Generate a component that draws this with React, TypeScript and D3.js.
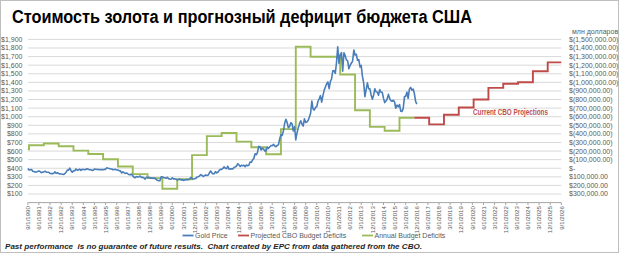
import React from "react";
import * as d3 from "d3";

// ---------- DATA ----------
const titleText = "Стоимость золота и прогнозный дефицит бюджета США";
const rightUnitText = "млн долларов";
const footerText =
  "Past performance  is no guarantee of future results.  Chart created by EPC from data gathered from the CBO.";
const projectionNote = "Current CBO Projections";

const seriesNames = ["Gold Price", "Projected CBO Budget Deficits", "Annual Budget Deficits"];

// Monthly gold price (USD/oz), starting September 1990, ending December 2016
const goldStart = "1990-09";
const goldPrices: number[] = [
  398, 380, 383, 386, // 1990 Sep-Dec
  366, 362, 355, 357, 361, 368, 362, 347, 355, 357, 366, 353, // 1991
  354, 353, 341, 337, 337, 343, 357, 340, 349, 339, 334, 333, // 1992
  330, 327, 337, 354, 378, 378, 401, 372, 355, 369, 370, 391, // 1993
  378, 381, 389, 376, 387, 385, 384, 385, 394, 389, 383, 383, // 1994
  375, 376, 392, 389, 385, 387, 383, 384, 384, 383, 387, 387, // 1995
  405, 400, 396, 392, 391, 382, 385, 387, 379, 379, 371, 369, // 1996
  345, 358, 348, 340, 345, 334, 326, 325, 332, 311, 296, 290, // 1997
  304, 297, 301, 310, 293, 296, 288, 273, 294, 292, 294, 288, // 1998
  285, 287, 280, 286, 268, 261, 255, 254, 299, 300, 291, 290, // 1999
  283, 293, 279, 275, 272, 288, 276, 277, 273, 264, 269, 274, // 2000
  265, 267, 258, 263, 267, 270, 266, 273, 293, 279, 275, 277, // 2001
  282, 297, 301, 308, 326, 318, 304, 312, 323, 316, 319, 343, // 2002
  368, 347, 335, 336, 361, 346, 354, 375, 388, 386, 398, 417, // 2003
  399, 395, 424, 388, 393, 395, 391, 408, 416, 426, 453, 438, // 2004
  422, 435, 428, 436, 418, 437, 430, 434, 473, 470, 495, 513, // 2005
  569, 557, 582, 654, 653, 613, 633, 623, 599, 604, 646, 632, // 2006
  650, 665, 662, 679, 659, 650, 666, 673, 743, 789, 783, 834, // 2007
  923, 971, 933, 871, 885, 930, 918, 833, 884, 730, 814, 870, // 2008
  919, 952, 916, 891, 976, 934, 939, 955, 996, 1040, 1182, 1088, // 2009
  1078, 1109, 1115, 1180, 1208, 1245, 1169, 1246, 1307, 1346, 1383, 1405, // 2010
  1327, 1411, 1439, 1535, 1536, 1505, 1628, 1813, 1620, 1722, 1746, 1531, // 2011
  1744, 1711, 1662, 1651, 1558, 1599, 1622, 1648, 1776, 1719, 1726, 1657, // 2012
  1664, 1578, 1598, 1469, 1394, 1234, 1314, 1394, 1327, 1324, 1253, 1204, // 2013
  1251, 1326, 1291, 1288, 1250, 1315, 1285, 1285, 1216, 1164, 1182, 1206, // 2014
  1260, 1214, 1187, 1180, 1191, 1171, 1098, 1135, 1114, 1142, 1065, 1060, // 2015
  1097, 1234, 1237, 1286, 1214, 1321, 1342, 1309, 1322, 1272, 1178, 1146, // 2016
];

// Annual budget deficits by fiscal year (USD millions, deficits negative)
const deficitYears = [
  1990, 1991, 1992, 1993, 1994, 1995, 1996, 1997, 1998, 1999, 2000, 2001, 2002,
  2003, 2004, 2005, 2006, 2007, 2008, 2009, 2010, 2011, 2012, 2013, 2014, 2015, 2016,
];
const annualDeficits = [
  -221000, -268000, -288000, -256000, -205000, -166000, -104000, -20000, 69000, 115000,
  239000, 129000, -153000, -374000, -411000, -310000, -244000, -163000, -455000,
  -1414000, -1298000, -1298000, -1092000, -676000, -482000, -437000, -588000,
];

// Projected CBO deficits by fiscal year (USD millions)
const projYears = [2017, 2018, 2019, 2020, 2021, 2022, 2023, 2024, 2025, 2026];
const projectedDeficits = [
  -588000, -511000, -623000, -708000, -801000, -936000, -983000, -1001000, -1129000, -1233000,
];

// Axis ticks
const goldTicks = [100, 200, 300, 400, 500, 600, 700, 800, 900, 1000, 1100, 1200, 1300, 1400, 1500, 1600, 1700, 1800, 1900];
const deficitTicks = [
  -1500000, -1400000, -1300000, -1200000, -1100000, -1000000, -900000, -800000, -700000,
  -600000, -500000, -400000, -300000, -200000, -100000, 0, 100000, 200000, 300000,
];
const axisStart = "1990-09";
const axisEnd = "2026-09";
const labelEveryMonths = 9;

// ---------- LAYOUT ----------
const W = 620;
const H = 255;
const plotLeft = 27.8;
const plotRight = 561.3;
const plotTop = 39.4;
const plotBottom = 202.6;

const COLORS = {
  gold: "#4A7EBB",
  proj: "#BE4B48",
  annual: "#9BBB59",
  grid: "#D9D9D9",
  axis: "#A6A6A6",
  label: "#595959",
  note: "#C0504D",
  frame: "#BFBFBF",
};
const FONT = "'Liberation Sans', Arial, sans-serif";

const ym = (s: string) => {
  const [y, m] = s.split("-").map(Number);
  return new Date(y, m - 1, 1);
};

export default function App() {
  const x0 = ym(axisStart);
  const x1 = ym(axisEnd);
  const x = d3.scaleTime().domain([x0, x1]).range([plotLeft, plotRight]);
  const yGold = d3.scaleLinear().domain([0, 1900]).range([plotBottom, plotTop]);
  const yDef = d3.scaleLinear().domain([400000, -1500000]).range([plotBottom, plotTop]);

  const gStart = ym(goldStart);
  const goldPts = goldPrices.map((v, i) => ({ d: d3.timeMonth.offset(gStart, i), v }));
  const goldLine = d3
    .line<{ d: Date; v: number }>()
    .x((p) => x(p.d))
    .y((p) => yGold(p.v))(goldPts) as string;

  const fyStart = (fy: number) => {
    const d = new Date(fy - 1, 9, 1);
    return d < x0 ? x0 : d;
  };
  const annualPts = deficitYears.map((fy, i) => ({ d: fyStart(fy), v: annualDeficits[i] }));
  annualPts.push({ d: fyStart(projYears[0]), v: annualDeficits[annualDeficits.length - 1] });
  const projPts = projYears.map((fy, i) => ({ d: fyStart(fy), v: projectedDeficits[i] }));
  projPts.push({ d: x1, v: projectedDeficits[projectedDeficits.length - 1] });

  const stepLine = d3
    .line<{ d: Date; v: number }>()
    .x((p) => x(p.d))
    .y((p) => yDef(p.v))
    .curve(d3.curveStepAfter);

  const xTicks: Date[] = [];
  for (let d = x0; d <= x1; d = d3.timeMonth.offset(d, labelEveryMonths)) xTicks.push(d);
  const fmtDate = (d: Date) => `${d.getMonth() + 1}/1/${d.getFullYear()}`;
  const fmtGold = d3.format("$,.0f");
  const fmtDef = (v: number) =>
    v < 0 ? `$(${d3.format(",.2f")(-v)})` : v === 0 ? "$-" : `$${d3.format(",.2f")(v)}`;

  const legendItems = [
    { name: seriesNames[0], color: COLORS.gold, x: 182.5 },
    { name: seriesNames[1], color: COLORS.proj, x: 238 },
    { name: seriesNames[2], color: COLORS.annual, x: 362 },
  ];

  return (
    <svg
      width={W}
      height={H}
      style={{ position: "absolute", left: 0, top: 0, background: "#fff" }}
      fontFamily={FONT}
    >
      <rect x={0.5} y={0.5} width={618} height={252} fill="#fff" stroke={COLORS.frame} />
      <text
        x={12}
        y={23}
        fontSize={18}
        fontWeight="bold"
        fill="#000"
        textLength={460}
        lengthAdjust="spacingAndGlyphs"
      >
        {titleText}
      </text>

      {/* gridlines */}
      {goldTicks.map((t) => (
        <line key={t} x1={plotLeft} x2={plotRight} y1={yGold(t)} y2={yGold(t)} stroke={COLORS.grid} strokeWidth={1} />
      ))}
      <line x1={plotLeft} x2={plotRight} y1={plotBottom} y2={plotBottom} stroke={COLORS.axis} strokeWidth={1} />
      {xTicks.map((d, i) => (
        <line key={i} x1={x(d)} x2={x(d)} y1={plotBottom} y2={plotBottom + 2.5} stroke={COLORS.axis} strokeWidth={1} />
      ))}

      {/* left axis labels */}
      {goldTicks.map((t) => (
        <text key={t} x={22.5} y={yGold(t)} dy="0.35em" textAnchor="end" fontSize={7} fill={COLORS.label}>
          {fmtGold(t)}
        </text>
      ))}
      {/* right axis labels */}
      <text x={572} y={34} fontSize={7} fill={COLORS.label}>
        {rightUnitText}
      </text>
      {deficitTicks.map((t) => (
        <text key={t} x={569} y={yDef(t)} dy="0.35em" fontSize={7} fill={COLORS.label}>
          {fmtDef(t)}
        </text>
      ))}
      {/* x labels */}
      {xTicks.map((d, i) => (
        <text
          key={i}
          transform={`translate(${x(d) + 2.2},${plotBottom + 3.5}) rotate(-90)`}
          textAnchor="end"
          fontSize={6.1}
          fill={COLORS.label}
        >
          {fmtDate(d)}
        </text>
      ))}

      {/* series */}
      <path d={stepLine(annualPts) as string} fill="none" stroke={COLORS.annual} strokeWidth={1.9} />
      <path d={stepLine(projPts) as string} fill="none" stroke={COLORS.proj} strokeWidth={1.9} />
      <path d={goldLine} fill="none" stroke={COLORS.gold} strokeWidth={1.6} strokeLinejoin="round" />

      <text
        x={473}
        y={115}
        fontSize={8.5}
        fontWeight="bold"
        fill={COLORS.note}
        textLength={75}
        lengthAdjust="spacingAndGlyphs"
      >
        {projectionNote}
      </text>

      {/* legend */}
      {legendItems.map((it) => (
        <g key={it.name}>
          <line x1={it.x} x2={it.x + 11} y1={235.5} y2={235.5} stroke={it.color} strokeWidth={1.8} />
          <text x={it.x + 12.5} y={238} fontSize={7} fill={COLORS.label}>
            {it.name}
          </text>
        </g>
      ))}

      <text
        x={5}
        y={248.5}
        fontSize={8}
        fontWeight="bold"
        fontStyle="italic"
        fill="#262626"
        textLength={417}
        lengthAdjust="spacingAndGlyphs"
        style={{ whiteSpace: "pre" }}
      >
        {footerText}
      </text>
    </svg>
  );
}
